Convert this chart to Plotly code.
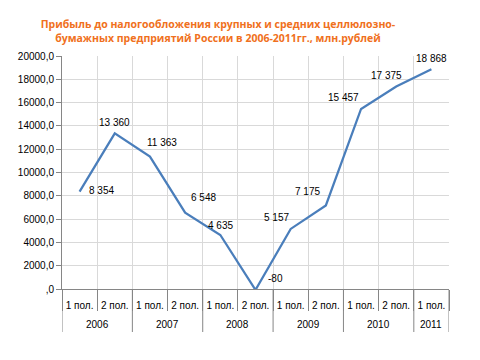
import plotly.graph_objects as go

years = ["2006", "2006", "2007", "2007", "2008", "2008", "2009", "2009", "2010", "2010", "2011"]
halves = ["1 пол.", "2 пол.", "1 пол.", "2 пол.", "1 пол.", "2 пол.", "1 пол.", "2 пол.", "1 пол.", "2 пол.", "1 пол."]
profit = [8354, 13360, 11363, 6548, 4635, -80, 5157, 7175, 15457, 17375, 18868]
value_labels = ["8 354", "13 360", "11 363", "6 548", "4 635", "-80", "5 157", "7 175", "15 457", "17 375", "18 868"]
y_ticks = [0, 2000, 4000, 6000, 8000, 10000, 12000, 14000, 16000, 18000, 20000]
y_tick_labels = [",0", "2000,0", "4000,0", "6000,0", "8000,0", "10000,0", "12000,0", "14000,0", "16000,0", "18000,0", "20000,0"]

# label offsets in pixels (style only)
label_dx = [22, 0, 12, 18, 0, 20, -14, -18, -18, -10, 0]
label_dy = [1, 11, 14, 15, 10, 11, 11, 14, 11, 11, 11]

font = "Liberation Sans"
# the page body adds an 8px offset, so the figure is sized to fit the 480x360 window
W, H = 472, 352
PLOT_H = 233
idx = list(range(len(profit)))
y_min, y_max = y_ticks[0], y_ticks[-1]

fig = go.Figure()
fig.add_trace(go.Scatter(
    x=idx, y=profit, mode="lines",
    line=dict(color="#4A7EBB", width=2.25), hoverinfo="skip", cliponaxis=False,
))

for i, (v, t) in enumerate(zip(profit, value_labels)):
    # labels of points slightly below the axis floor are anchored at the floor
    fig.add_annotation(x=i, y=max(v, y_min), xref="x", yref="y", text=t, showarrow=False,
                       xshift=label_dx[i], yshift=label_dy[i],
                       font=dict(family=font, size=10, color="#000000"))

# year groups
groups = []
for i, yr in enumerate(years):
    if not groups or groups[-1][0] != yr:
        groups.append([yr, i, i])
    else:
        groups[-1][2] = i
for yr, a, b in groups:
    fig.add_annotation(x=(a + b) / 2, y=-35 / PLOT_H, xref="x", yref="paper", text=yr,
                       showarrow=False, yanchor="middle",
                       font=dict(family=font, size=10, color="#000000"))
boundaries = [groups[0][1] - 0.5] + [b + 0.5 for _, _, b in groups]
for bx in boundaries:
    fig.add_shape(type="line", x0=bx, x1=bx, y0=0, y1=-43 / PLOT_H, xref="x", yref="paper",
                  line=dict(color="#868686", width=1))

fig.update_layout(
    width=W, height=H,
    margin=dict(l=54, r=31, t=48, b=71),
    paper_bgcolor="white", plot_bgcolor="white",
    showlegend=False,
    title=dict(
        text="Прибыль до налогообложения крупных и средних целлюлозно-<br>бумажных предприятий России в 2006-2011гг., млн.рублей",
        x=210/W, xanchor="center", y=1-20/H, yanchor="middle",
        font=dict(family="Open Sans", size=10.5, color="#F07020", weight="bold"),
    ),
    xaxis=dict(
        range=[-0.5, len(profit) - 0.5],
        tickvals=idx, ticktext=halves,
        showgrid=False, zeroline=False,
        showline=True, linecolor="#868686", linewidth=1,
        ticks="", ticklabelstandoff=7,
        tickfont=dict(family=font, size=10, color="#000000"),
        minor=dict(tick0=-0.5, dtick=1, showgrid=True, gridcolor="#D9D9D9", gridwidth=1,
                   ticks="outside", ticklen=21, tickcolor="#868686"),
        automargin=False,
    ),
    yaxis=dict(
        range=[y_min, y_max],
        tickvals=y_ticks, ticktext=y_tick_labels,
        showgrid=True, gridcolor="#D9D9D9", gridwidth=1,
        showline=True, linecolor="#868686", linewidth=1,
        ticks="outside", ticklen=5, tickcolor="#868686",
        tickfont=dict(family=font, size=10, color="#000000"),
        zeroline=False, automargin=False,
    ),
)

fig.write_html("out.html")
